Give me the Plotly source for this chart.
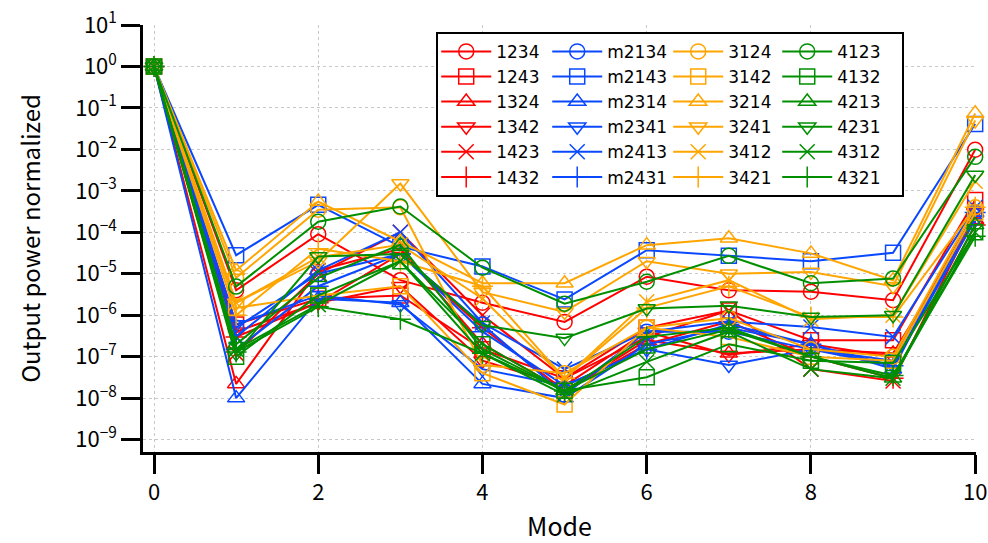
import plotly.graph_objects as go

modes = [0, 1, 2, 3, 4, 5, 6, 7, 8, 9, 10]

names_red = ["1234", "1243", "1324", "1342", "1423", "1432"]
names_blue = ["m2134", "m2143", "m2314", "m2341", "m2413", "m2431"]
names_orange = ["3124", "3142", "3214", "3241", "3412", "3421"]
names_green = ["4123", "4132", "4213", "4231", "4312", "4321"]

# red group
s1234 = [1, 4e-6, 9e-5, 7e-6, 2e-6, 6.9e-7, 8.5e-6, 4e-6, 3.7e-6, 2.3e-6, 9.8e-3]
s1243 = [1, 6e-7, 2.5e-6, 3e-6, 1.5e-7, 3e-8, 5e-7, 1.3e-6, 2.5e-7, 2.5e-7, 6e-4]
s1324 = [1, 2.2e-8, 1.2e-5, 4e-5, 2e-7, 1.5e-8, 2.5e-7, 1.2e-7, 1.5e-7, 1.2e-7, 2e-4]
s1342 = [1, 4e-7, 2e-6, 5e-6, 8e-8, 2e-8, 4e-7, 1.1e-7, 2e-7, 1e-7, 3e-4]
s1423 = [1, 1.2e-7, 1e-5, 1e-4, 1e-6, 3e-8, 3e-7, 1.3e-6, 5e-8, 2.6e-8, 2.5e-4]
s1432 = [1, 3e-7, 2e-6, 3e-5, 5e-7, 1.5e-8, 2e-7, 7e-7, 1e-7, 3e-8, 1.5e-4]

# blue group
s2134 = [1, 5e-7, 1e-5, 3e-5, 6e-7, 1.2e-8, 4e-7, 4e-7, 1.5e-7, 8e-8, 3e-4]
s2143 = [1, 2.8e-5, 4.6e-4, 4.5e-5, 1.5e-5, 2.4e-6, 3.7e-5, 2.7e-5, 2e-5, 3.2e-5, 4.1e-2]
s2314 = [1, 1e-8, 2.5e-6, 2e-6, 2.2e-8, 1e-8, 2e-7, 5e-7, 2e-7, 5e-8, 3e-4]
s2341 = [1, 6e-7, 3e-6, 1.8e-6, 5e-8, 2e-8, 1.5e-7, 6.3e-8, 1.5e-7, 6e-8, 2e-4]
s2413 = [1, 3e-7, 1.2e-5, 1e-4, 6.5e-7, 5e-8, 4e-7, 7e-7, 5.2e-7, 3e-7, 4e-4]
s2431 = [1, 1.5e-7, 5e-6, 3e-5, 4e-7, 2e-8, 1.5e-7, 6e-7, 2e-7, 6e-8, 3e-4]

# orange group
s3124 = [1, 8e-6, 3.5e-4, 4e-4, 6.3e-8, 4e-8, 5e-7, 8.5e-7, 1.5e-7, 1e-7, 4e-4]
s3142 = [1, 1.5e-6, 3e-6, 5e-6, 4e-8, 7e-9, 5e-7, 3e-7, 1e-7, 8e-8, 3e-4]
s3214 = [1, 1.2e-5, 5.5e-4, 6e-5, 5.9e-6, 5.9e-6, 4.9e-5, 7.2e-5, 3.1e-5, 7e-6, 7.4e-2]
s3241 = [1, 2e-6, 2e-5, 1.5e-3, 3.6e-6, 1.2e-6, 2e-5, 1e-5, 1.1e-5, 5e-6, 5e-2]
s3412 = [1, 2e-6, 2.5e-5, 5e-5, 2.5e-6, 3e-8, 2.1e-6, 7e-6, 8e-7, 1e-6, 1.7e-3]
s3421 = [1, 1e-6, 4e-5, 2e-5, 5e-6, 3e-8, 1.5e-6, 5e-6, 9e-7, 9e-7, 4e-4]

# green group
s4123 = [1, 4.9e-6, 1.8e-4, 4.2e-4, 1.4e-5, 1.9e-6, 6.4e-6, 2.7e-5, 5.9e-6, 7.7e-6, 6.6e-3]
s4132 = [1, 1e-7, 3e-6, 2e-5, 2e-7, 1.5e-8, 3.2e-8, 2e-7, 8e-8, 7e-8, 1e-4]
s4213 = [1, 2e-7, 8e-6, 5e-5, 1.5e-7, 1.5e-8, 1.5e-7, 4.5e-7, 1e-7, 3e-8, 1.5e-4]
s4231 = [1, 1.2e-7, 2.6e-5, 3e-5, 5.7e-7, 2.8e-7, 1.45e-6, 1.7e-6, 9.1e-7, 1e-6, 2.4e-3]
s4312 = [1, 1.5e-7, 1.8e-6, 2e-5, 1.2e-7, 1.2e-8, 7.5e-8, 4e-7, 5e-8, 3e-8, 1e-4]
s4321 = [1, 1.3e-7, 1.6e-6, 8e-7, 1.2e-7, 1.5e-8, 3e-7, 5e-7, 1e-7, 3.5e-8, 8e-5]

x_ticks = [0, 2, 4, 6, 8, 10]
y_tickvals = [1e1, 1e0, 1e-1, 1e-2, 1e-3, 1e-4, 1e-5, 1e-6, 1e-7, 1e-8, 1e-9]
y_ticktext = ["10<sup>1</sup>", "10<sup>0</sup>", "10<sup>\u22121</sup>",
              "10<sup>\u22122</sup>", "10<sup>\u22123</sup>", "10<sup>\u22124</sup>",
              "10<sup>\u22125</sup>", "10<sup>\u22126</sup>", "10<sup>\u22127</sup>",
              "10<sup>\u22128</sup>", "10<sup>\u22129</sup>"]
x_title = "Mode"
y_title = "Output power normalized"

groups = [
    ("red", "#ff0000", names_red, [s1234, s1243, s1324, s1342, s1423, s1432], 46),
    ("blue", "#0a48ff", names_blue, [s2134, s2143, s2314, s2341, s2413, s2431], 56),
    ("orange", "#ffa500", names_orange, [s3124, s3142, s3214, s3241, s3412, s3421], 44),
    ("green", "#008f00", names_green, [s4123, s4132, s4213, s4231, s4312, s4321], 60),
]
symbols = ["circle-open", "square-open", "triangle-up-open", "triangle-down-open",
           "x-thin-open", "cross-thin-open"]

fig = go.Figure()
for gname, color, names, series, lw in groups:
    for nm, sym, ys in zip(names, symbols, series):
        fig.add_trace(go.Scatter(
            x=modes, y=ys, name=nm, mode="lines+markers",
            legendgroup=gname, legendwidth=lw, cliponaxis=False,
            line=dict(color=color, width=2),
            marker=dict(symbol=sym, size=15, color=color,
                        line=dict(color=color, width=1.5)),
        ))

font_family = "Noto Sans CJK JP, Noto Sans, sans-serif"
fig.update_layout(
    width=988, height=543,
    margin=dict(l=143, r=12, t=25, b=91),
    paper_bgcolor="white", plot_bgcolor="white",
    font=dict(family=font_family, color="black", size=20),
    showlegend=True,
    legend=dict(
        x=0.352, y=0.984, xanchor="left", yanchor="top",
        orientation="h", traceorder="grouped", tracegroupgap=0,
        bgcolor="white", bordercolor="black", borderwidth=2,
        font=dict(size=17, family="DejaVu Sans"), itemwidth=50,
    ),
    xaxis=dict(
        range=[-0.134, 10.01], tickvals=x_ticks, showline=True,
        linecolor="black", linewidth=2.5, ticks="outside", ticklen=19,
        tickwidth=2.5, tickcolor="black", zeroline=False, automargin=False,
        showgrid=True, gridcolor="#c8c8c8", gridwidth=1, griddash="dot",
        tickfont=dict(size=22),
        title=dict(text=x_title, font=dict(size=25), standoff=16),
    ),
    yaxis=dict(
        type="log", range=[-9.3, 1.0005], tickvals=y_tickvals, ticktext=y_ticktext,
        showline=True, linecolor="black", linewidth=2.5, ticks="outside",
        ticklen=19, tickwidth=2.5, tickcolor="black", zeroline=False, automargin=False,
        showgrid=True, gridcolor="#c8c8c8", gridwidth=1, griddash="dot",
        tickfont=dict(size=22),
        title=dict(text=y_title, font=dict(size=24), standoff=28),
    ),
)

fig.write_html("out.html")
